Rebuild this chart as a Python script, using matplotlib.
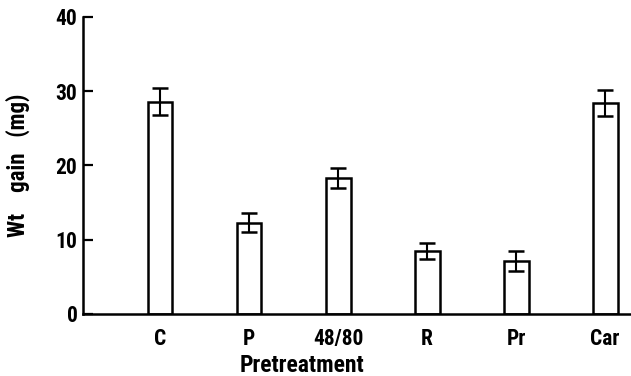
import numpy as np
import matplotlib
matplotlib.use("Agg")
import matplotlib.pyplot as plt
from matplotlib import font_manager

# -- Data ---------------------------------------------------------------------
treatments = ["C", "P", "48/80", "R", "Pr", "Car"]
wt_gain    = [28.6, 12.3, 18.3, 8.5, 7.1, 28.4]   # mg
wt_err     = [1.8, 1.3, 1.4, 1.1, 1.35, 1.8]      # mg
y_ticks    = [0, 10, 20, 30, 40]

# -- Font: narrow bold face like the original --------------------------------
rc_bold = [f.fname for f in font_manager.fontManager.ttflist
           if f.fname.endswith("RobotoCondensed-Bold.ttf")]


def fp(size):
    if rc_bold:
        return font_manager.FontProperties(fname=rc_bold[0], size=size)
    return font_manager.FontProperties(family="DejaVu Sans", weight="bold",
                                       size=size)


fig = plt.figure(figsize=(6.31, 3.76), dpi=100)
ax = fig.add_axes([0.1315, 0.165, 0.867, 0.79])

x = np.arange(len(treatments))
ax.bar(x, wt_gain, width=0.28, facecolor="white", edgecolor="black",
       linewidth=1.8, zorder=2)
ax.errorbar(x, wt_gain, yerr=wt_err, fmt="none", ecolor="black",
            elinewidth=1.5, capsize=6, capthick=1.8, zorder=3)

ax.set_xlim(-0.865, 5.28)
ax.set_ylim(0, 40)
ax.set_yticks(y_ticks)
ax.set_xticks(x)
ax.set_xticklabels(treatments, fontproperties=fp(15.5))
ax.set_yticklabels([str(t) for t in y_ticks], fontproperties=fp(15.5))

for side in ("top", "right"):
    ax.spines[side].set_visible(False)
for side in ("left", "bottom"):
    ax.spines[side].set_linewidth(1.8)

ax.tick_params(axis="y", direction="in", length=7, width=1.6, pad=4)
ax.tick_params(axis="x", length=0, pad=10)

ax.set_ylabel("Wt    gain   (mg)", fontproperties=fp(16.5))
ax.yaxis.set_label_coords(-0.119, 0.5)
ax.yaxis.label.set_va("center")
ax.set_xlabel("Pretreatment", fontproperties=fp(17))
ax.xaxis.set_label_coords(0.40, -0.175)
ax.xaxis.label.set_va("center")

fig.savefig("out.png", dpi=100)
